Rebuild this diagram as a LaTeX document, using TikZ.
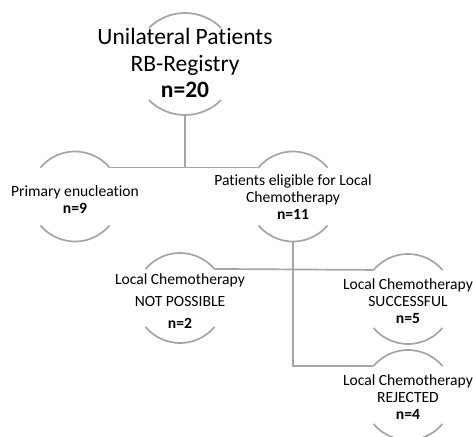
\documentclass[tikz,border=0pt]{standalone}
\usepackage{fontspec}
\setmainfont{Carlito}[Ligatures=NoCommon]
\definecolor{linegray}{RGB}{165,165,165}

\begin{document}
\begin{tikzpicture}[x=1pt, y=1pt,
  ring/.style={circle, minimum size=90pt, inner sep=0pt},
  arcline/.style={draw=linegray, line width=1.7pt},
  conn/.style={draw=linegray, line width=1.7pt},
  bigtxt/.style={align=center, inner sep=0pt, font=\fontsize{23.5}{26.5}\selectfont},
  smalltxt/.style={align=center, inner sep=0pt, font=\fontsize{15.6}{17}\selectfont}]

  % upper and lower halves of a ring: node, radius, angle
  \newcommand\ringarcs[3]{%
    \draw[arcline] (#1) ++(#3:#2) arc[start angle=#3, end angle=180-#3, radius=#2];
    \draw[arcline] (#1) ++(180+#3:#2) arc[start angle=180+#3, end angle=360-#3, radius=#2];}

  \useasboundingbox (0,0) rectangle (473,-436);

  % rings
  \node[ring, minimum size=102pt] (reg) at (185,-64) {};
  \node[ring] (enuc) at (75,-196.5) {};
  \node[ring] (elig) at (293,-196.5) {};
  \node[ring] (notp) at (180,-298) {};
  \node[ring] (succ) at (408,-299) {};
  \node[ring] (rej)  at (408,-395) {};

  \ringarcs{reg}{51}{45}
  \ringarcs{enuc}{45}{40}
  \ringarcs{elig}{45}{40}
  \ringarcs{notp}{45}{40}
  \ringarcs{succ}{45}{40}
  \ringarcs{rej}{45}{40}

  % texts
  \node[bigtxt] (regtxt) at ([yshift=1pt]reg) {Unilateral Patients\\RB-Registry\\\textbf{n=20}};
  \node[smalltxt] (enuctxt) at ([yshift=-3.5pt]enuc) {Primary enucleation\\\textbf{n=9}};
  \node[smalltxt] (eligtxt) at ([yshift=-0.5pt]elig) {Patients eligible for Local\\Chemotherapy\\\textbf{n=11}};
  \node[smalltxt, font=\fontsize{15.6}{22}\selectfont] (notptxt) at ([yshift=-3pt]notp)
    {Local Chemotherapy\\NOT POSSIBLE\\\textbf{n=2}};
  \node[smalltxt] (succtxt) at ([yshift=-2.5pt]succ) {Local Chemotherapy\\SUCCESSFUL\\\textbf{n=5}};
  \node[smalltxt] (rejtxt) at ([yshift=-2pt]rej) {Local Chemotherapy\\REJECTED\\\textbf{n=4}};

  % connectors
  \draw[conn] (enuc.40) -- (elig.140);
  \draw[conn] (reg.south) -- (reg.south |- enuc.40);
  \draw[conn] (notp.40) -- (succ.140);
  \draw[conn] (elig.south) |- (rej.140);
\end{tikzpicture}
\end{document}
